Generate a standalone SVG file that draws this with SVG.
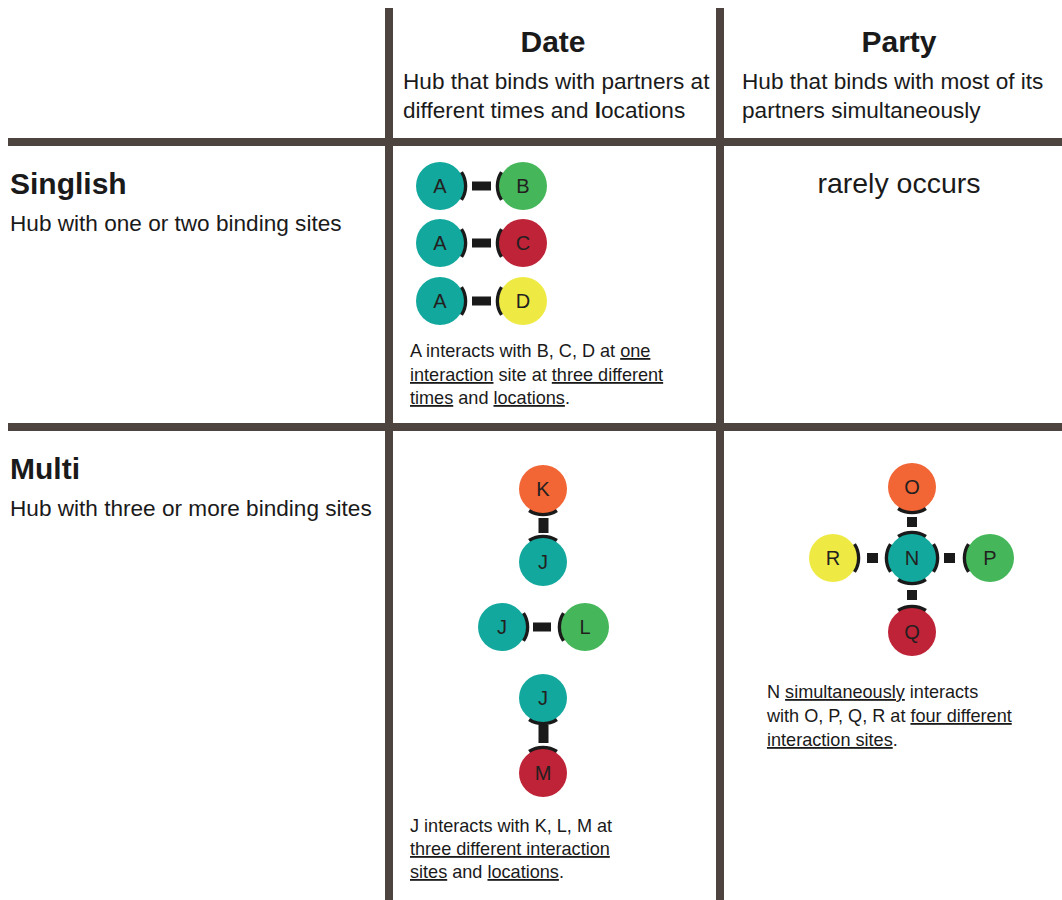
<svg xmlns="http://www.w3.org/2000/svg" xmlns:xlink="http://www.w3.org/1999/xlink" width="1062" height="900" viewBox="0 0 1062 900">
  <style>
    .grid { stroke: #4d4440; stroke-width: 8; }
    .title { font-family: "Liberation Sans", Arial, sans-serif; font-weight: bold; font-size: 30px; fill: #1a1a1a; }
    .sub { font-family: "Liberation Sans", Arial, sans-serif; font-size: 22.6px; fill: #1a1a1a; }
    .note { font-family: "Liberation Sans", Arial, sans-serif; font-size: 18.1px; fill: #1a1a1a; }
    .rare { font-family: "Liberation Sans", Arial, sans-serif; font-size: 28.5px; fill: #1a1a1a; }
    .lbl { font-family: "Liberation Sans", Arial, sans-serif; font-size: 20px; fill: #231f20; text-anchor: middle; }
    .u { text-decoration: underline; }
    .bar { fill: #1a1a1a; }
    .site { fill: none; stroke: #1a1a1a; stroke-width: 5; }
    .teal { fill: #12a89d; }
    .green { fill: #45b75a; }
    .red { fill: #be2337; }
    .yellow { fill: #eeea43; }
    .orange { fill: #f26535; }
  </style>
  <defs>
    <!-- binding-site bracket, pointing right from a node centre -->
    <path id="site" class="site" d="M20.8,-13.5 A24.8,24.8 0 0 1 20.8,13.5"/>
  </defs>

  <rect width="1062" height="900" fill="#ffffff"/>

  <!-- table grid -->
  <g id="grid">
    <line class="grid" x1="389" y1="8" x2="389" y2="900"/>
    <line class="grid" x1="720" y1="8" x2="720" y2="900"/>
    <line class="grid" x1="8" y1="142" x2="1062" y2="142"/>
    <line class="grid" x1="8" y1="427" x2="1062" y2="427"/>
  </g>

  <!-- headers -->
  <g id="headers">
    <text class="title" x="553" y="52" text-anchor="middle">Date</text>
    <text class="sub" x="403" y="89">Hub that binds with partners at</text>
    <text class="sub" x="403" y="118">different times and <tspan font-weight="bold">l</tspan>ocations</text>
    <text class="title" x="899" y="52" text-anchor="middle">Party</text>
    <text class="sub" x="742" y="89">Hub that binds with most of its</text>
    <text class="sub" x="742" y="118">partners simultaneously</text>
    <text class="title" x="10" y="194">Singlish</text>
    <text class="sub" x="10" y="231">Hub with one or two binding sites</text>
    <text class="title" x="10" y="479">Multi</text>
    <text class="sub" x="10" y="516">Hub with three or more binding sites</text>
    <text class="rare" x="899" y="193" text-anchor="middle">rarely occurs</text>
  </g>

  <!-- connectors: binding bars and binding-site brackets -->
  <g id="connectors">
    <!-- A-B, A-C, A-D -->
    <rect class="bar" x="472" y="181.5" width="19" height="9"/>
    <use href="#site" transform="translate(440,186)"/>
    <use href="#site" transform="translate(523,186) rotate(180)"/>
    <rect class="bar" x="472" y="238.5" width="19" height="9"/>
    <use href="#site" transform="translate(440,243)"/>
    <use href="#site" transform="translate(523,243) rotate(180)"/>
    <rect class="bar" x="472" y="296.5" width="19" height="9"/>
    <use href="#site" transform="translate(440,301)"/>
    <use href="#site" transform="translate(523,301) rotate(180)"/>

    <!-- K-J -->
    <rect class="bar" x="538.5" y="518" width="10" height="15"/>
    <use href="#site" transform="translate(543,489) rotate(90)"/>
    <use href="#site" transform="translate(543,562) rotate(-90)"/>
    <!-- J-L -->
    <rect class="bar" x="533" y="622.5" width="18" height="9"/>
    <use href="#site" transform="translate(502,627)"/>
    <use href="#site" transform="translate(585,627) rotate(180)"/>
    <!-- J-M -->
    <rect class="bar" x="538.5" y="725" width="10" height="18"/>
    <use href="#site" transform="translate(543,698) rotate(90)"/>
    <use href="#site" transform="translate(543,773) rotate(-90)"/>

    <!-- N with O, P, Q, R -->
    <rect class="bar" x="907" y="517" width="10" height="10"/>
    <rect class="bar" x="867" y="553" width="11" height="10"/>
    <rect class="bar" x="944" y="553" width="11" height="10"/>
    <rect class="bar" x="907" y="590" width="10" height="10"/>
    <use href="#site" transform="translate(912,487) rotate(90)"/>
    <use href="#site" transform="translate(912,558) rotate(-90)"/>
    <use href="#site" transform="translate(912,558)"/>
    <use href="#site" transform="translate(912,558) rotate(90)"/>
    <use href="#site" transform="translate(912,558) rotate(180)"/>
    <use href="#site" transform="translate(990,558) rotate(180)"/>
    <use href="#site" transform="translate(912,632) rotate(-90)"/>
    <use href="#site" transform="translate(833,558)"/>
  </g>

  <!-- Singlish / Date nodes -->
  <g id="node-A1"><circle class="teal" cx="440" cy="186" r="24"/><text class="lbl" x="440" y="193">A</text></g>
  <g id="node-B"><circle class="green" cx="523" cy="186" r="24"/><text class="lbl" x="523" y="193">B</text></g>
  <g id="node-A2"><circle class="teal" cx="440" cy="243" r="24"/><text class="lbl" x="440" y="250">A</text></g>
  <g id="node-C"><circle class="red" cx="523" cy="243" r="24"/><text class="lbl" x="523" y="250">C</text></g>
  <g id="node-A3"><circle class="teal" cx="440" cy="301" r="24"/><text class="lbl" x="440" y="308">A</text></g>
  <g id="node-D"><circle class="yellow" cx="523" cy="301" r="24"/><text class="lbl" x="523" y="308">D</text></g>

  <!-- Multi / Date nodes -->
  <g id="node-K"><circle class="orange" cx="543" cy="489" r="24"/><text class="lbl" x="543" y="496">K</text></g>
  <g id="node-J1"><circle class="teal" cx="543" cy="562" r="24"/><text class="lbl" x="543" y="569">J</text></g>
  <g id="node-J2"><circle class="teal" cx="502" cy="627" r="24"/><text class="lbl" x="502" y="634">J</text></g>
  <g id="node-L"><circle class="green" cx="585" cy="627" r="24"/><text class="lbl" x="585" y="634">L</text></g>
  <g id="node-J3"><circle class="teal" cx="543" cy="698" r="24"/><text class="lbl" x="543" y="705">J</text></g>
  <g id="node-M"><circle class="red" cx="543" cy="773" r="24"/><text class="lbl" x="543" y="780">M</text></g>

  <!-- Multi / Party nodes -->
  <g id="node-O"><circle class="orange" cx="912" cy="487" r="24"/><text class="lbl" x="912" y="494">O</text></g>
  <g id="node-N"><circle class="teal" cx="912" cy="558" r="24"/><text class="lbl" x="912" y="565">N</text></g>
  <g id="node-R"><circle class="yellow" cx="833" cy="558" r="24"/><text class="lbl" x="833" y="565">R</text></g>
  <g id="node-P"><circle class="green" cx="990" cy="558" r="24"/><text class="lbl" x="990" y="565">P</text></g>
  <g id="node-Q"><circle class="red" cx="912" cy="632" r="24"/><text class="lbl" x="912" y="639">Q</text></g>

  <!-- captions -->
  <g id="captions">
    <text class="note" x="410" y="357">A interacts with B, C, D at <tspan class="u">one</tspan></text>
    <text class="note" x="410" y="381"><tspan class="u">interaction</tspan> site at <tspan class="u">three different</tspan></text>
    <text class="note" x="410" y="404"><tspan class="u">times</tspan> and <tspan class="u">locations</tspan>.</text>

    <text class="note" x="410" y="832">J interacts with K, L, M at</text>
    <text class="note" x="410" y="855"><tspan class="u">three different interaction</tspan></text>
    <text class="note" x="410" y="878"><tspan class="u">sites</tspan> and <tspan class="u">locations</tspan>.</text>

    <text class="note" x="767" y="698">N <tspan class="u">simultaneously</tspan> interacts</text>
    <text class="note" x="767" y="722">with O, P, Q, R at <tspan class="u">four different</tspan></text>
    <text class="note" x="767" y="746"><tspan class="u">interaction sites</tspan>.</text>
  </g>
</svg>
